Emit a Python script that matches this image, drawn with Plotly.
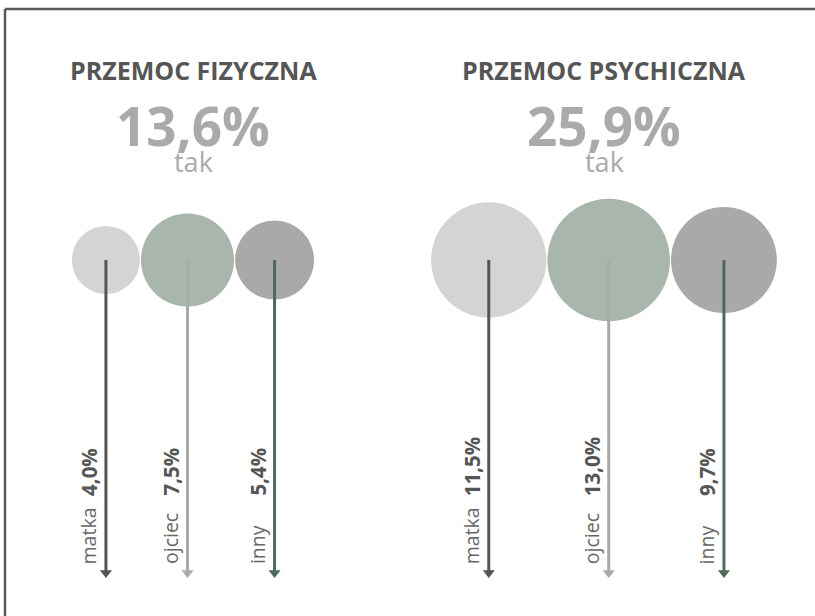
import math
import plotly.graph_objects as go

# ---- data ----
groups = ["PRZEMOC FIZYCZNA", "PRZEMOC PSYCHICZNA"]
totals = [13.6, 25.9]
categories = ["matka", "ojciec", "inny"]
fizyczna = [4.0, 7.5, 5.4]
psychiczna = [11.5, 13.0, 9.7]
series = [fizyczna, psychiczna]

# ---- styles ----
W, H = 815, 616
FONT = "Open Sans"
circle_colors = ["#d4d4d4", "#a9b6ac", "#a9a9a9"]
arrow_colors = ["#555555", "#aaaaaa", "#4e6b5a"]
group_centers = [193, 604]
K = 34.0          # px diameter per sqrt(percent)
GAP = 1.0
CY = 260
ARROW_TIP = 578
LABEL_BOTTOM = 566
VALUE_BOTTOM = 498

def fmt(v):
    return f"{v:.1f}".replace(".", ",") + "%"

fig = go.Figure()
annotations = []

for gi, (gname, tot, vals) in enumerate(zip(groups, totals, series)):
    diam = [K * math.sqrt(v) for v in vals]
    total_w = sum(diam) + GAP * (len(diam) - 1)
    x = group_centers[gi] - total_w / 2
    centers = []
    for d in diam:
        centers.append(x + d / 2)
        x += d + GAP

    # circles
    for ci, (cx, d) in enumerate(zip(centers, diam)):
        fig.add_trace(go.Scatter(
            x=[cx], y=[CY], mode="markers",
            marker=dict(size=d, color=circle_colors[ci], line=dict(width=0)),
            hoverinfo="skip", showlegend=False))

    # arrows
    for ci, cx in enumerate(centers):
        fig.add_trace(go.Scatter(
            x=[cx, cx], y=[CY, ARROW_TIP - 7], mode="lines",
            line=dict(color=arrow_colors[ci], width=3),
            hoverinfo="skip", showlegend=False))
        fig.add_trace(go.Scatter(
            x=[cx], y=[ARROW_TIP - 5.2], mode="markers",
            marker=dict(symbol="triangle-down", size=10.5, color=arrow_colors[ci],
                        line=dict(width=0)),
            hoverinfo="skip", showlegend=False))
        annotations.append(dict(
            x=cx - 1.5, y=LABEL_BOTTOM, xref="x", yref="y", text=categories[ci],
            textangle=-90, showarrow=False, xanchor="right", yanchor="bottom",
            font=dict(family=FONT, size=19.5, color="#666666")))
        annotations.append(dict(
            x=cx - 1, y=VALUE_BOTTOM, xref="x", yref="y", text="<b>" + fmt(vals[ci]) + "</b>",
            textangle=-90, showarrow=False, xanchor="right", yanchor="bottom",
            font=dict(family=FONT, size=20.5, color="#555555")))

    # titles
    annotations.append(dict(
        x=group_centers[gi], y=70, xref="x", yref="y", text="<b>" + gname + "</b>",
        showarrow=False, xanchor="center", yanchor="middle",
        font=dict(family=FONT, size=25, color="#555555")))
    annotations.append(dict(
        x=group_centers[gi], y=125, xref="x", yref="y", text="<b>" + fmt(tot) + "</b>",
        showarrow=False, xanchor="center", yanchor="middle",
        font=dict(family=FONT, size=53, color="#aaaaaa")))
    annotations.append(dict(
        x=group_centers[gi], y=161, xref="x", yref="y", text="tak",
        showarrow=False, xanchor="center", yanchor="middle",
        font=dict(family=FONT, size=27, color="#aaaaaa")))

border = dict(color="#5a5a5a", width=2.5)
fig.update_layout(
    width=W, height=H, margin=dict(l=0, r=0, t=0, b=0),
    paper_bgcolor="white", plot_bgcolor="white",
    xaxis=dict(range=[0, W], visible=False, fixedrange=True),
    yaxis=dict(range=[H, 0], visible=False, fixedrange=True),
    annotations=annotations,
    shapes=[
        dict(type="line", xref="paper", yref="paper",
             x0=5 / W, x1=1.0, y0=1 - 9 / H, y1=1 - 9 / H, line=border),
        dict(type="line", xref="paper", yref="paper",
             x0=5 / W, x1=5 / W, y0=1 - 9 / H, y1=0.0, line=border),
    ],
)

fig.write_html(
    "out.html",
    config={"displayModeBar": False},
    post_script="document.body.style.margin='0';document.body.style.overflow='hidden';",
)
